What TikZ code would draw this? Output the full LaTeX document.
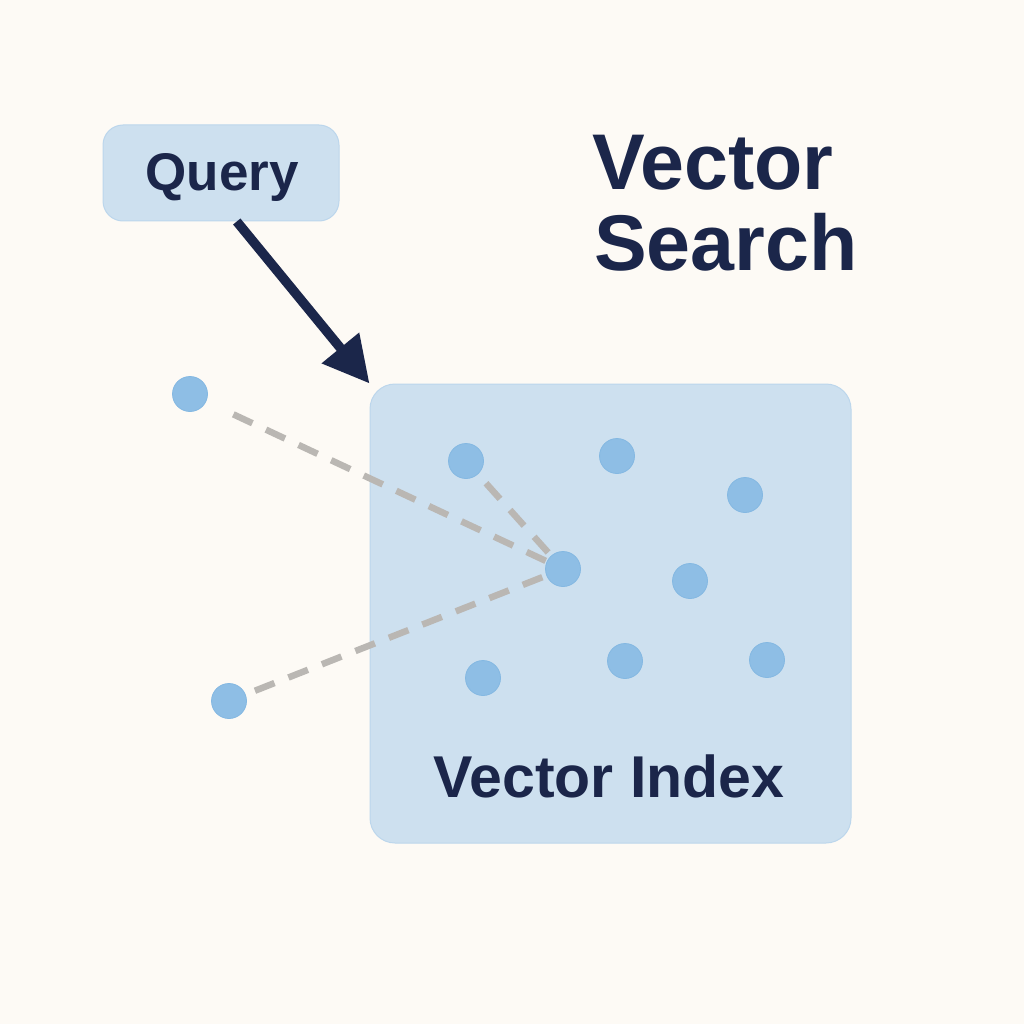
\documentclass[tikz,border=0pt]{standalone}
\usepackage{fontspec}
\setmainfont{Liberation Sans}
\usepackage{tikz}
\usetikzlibrary{arrows.meta,positioning}
\definecolor{vsbg}{HTML}{FDFAF5}
\definecolor{vsnavy}{HTML}{1B264A}
\definecolor{vsbox}{HTML}{CDE0EF}
\definecolor{vsboxline}{HTML}{BCD6EC}
\definecolor{vsdot}{HTML}{8EBEE5}
\definecolor{vsdotline}{HTML}{84B8E2}
\definecolor{vsgray}{HTML}{BAB7B3}
\tikzstyle{vsarrow} = [line width=9.5pt,-{Triangle[length=46pt,width=46pt]},color=vsnavy]
\tikzstyle{vsdash} = [line width=6.5pt,color=vsgray,dash pattern=on 21pt off 15pt]
\tikzstyle{vsdot} = [circle,fill=vsdot,draw=vsdotline,line width=0.8pt,minimum size=35pt,inner sep=0pt]

\begin{document}
\begin{tikzpicture}[x=1pt,y=-1pt]
% Background
\fill[vsbg] (0,0) rectangle (1024,1024);
\useasboundingbox (0,0) rectangle (1024,1024);

% Query box
\node[draw=vsboxline, fill=vsbox, line width=1pt, rounded corners=20pt, minimum width=236pt, minimum height=96pt] (query) at (221,173) {};
\node[anchor=base, inner sep=0pt, text=vsnavy, font=\fontsize{53}{60}\selectfont\bfseries] (querylabel) at (222,191) {Query};

% Title
\node[anchor=base west, inner sep=0pt, text=vsnavy, font=\fontsize{79}{80}\selectfont\bfseries] (title1) at (592,190) {Vector};
\node[anchor=base west, inner sep=0pt, text=vsnavy, font=\fontsize{79}{80}\selectfont\bfseries] (title2) at (594,270) {Search};

% Vector index box
\node[draw=vsboxline, fill=vsbox, line width=1pt, rounded corners=25pt, minimum width=481pt, minimum height=459pt] (index) at (610.5,613.5) {};
\node[anchor=base, inner sep=0pt, text=vsnavy, font=\fontsize{59}{64}\selectfont\bfseries] (indexlabel) at (609,797) {Vector Index};

% Arrow
\draw[vsarrow] (query.288) -- (index.north west);

% Vectors
\foreach \n/\x/\y in {c/563/569, p1/190/394, p2/466/461, p3/229/701, p4/617/456, p5/745/495, p6/690/581, p7/483/678, p8/625/661, p9/767/660}
  \node[vsdot] (\n) at (\x,\y) {};

% Nearest neighbours
\draw[vsdash, shorten <=30pt] (p1) -- (c);
\draw[vsdash, shorten <=12pt] (p2) -- (c);
\draw[vsdash, shorten <=10pt] (p3) -- (c);
\end{tikzpicture}
\end{document}
